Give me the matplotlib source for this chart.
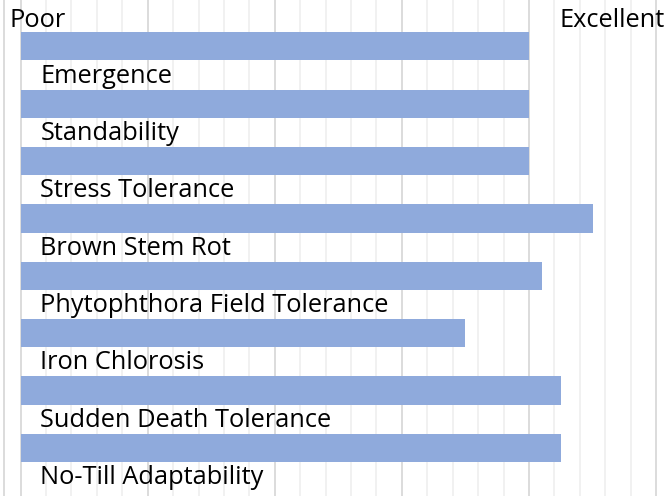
import matplotlib
matplotlib.use("Agg")
import matplotlib.pyplot as plt
import numpy as np

traits = ["Emergence", "Standability", "Stress Tolerance", "Brown Stem Rot",
          "Phytophthora Field Tolerance", "Iron Chlorosis",
          "Sudden Death Tolerance", "No-Till Adaptability"]
scores = [4.0, 4.0, 4.0, 4.5, 4.1, 3.5, 4.25, 4.25]
scale_labels = ["Poor", "Excellent"]

plt.rcParams['font.family'] = ['Open Sans', 'DejaVu Sans']

fig = plt.figure(figsize=(6.65, 4.96), dpi=100)
ax = fig.add_axes([0, 0, 1, 1])

y = np.arange(len(traits))
ax.barh(y, scores, height=0.49, color="#8FAADC", zorder=3)

# grid: majors every 1, minors every 0.2
for v in np.arange(0, 5.01, 0.2):
    major = abs(v - round(v)) < 1e-6
    ax.axvline(v, color="#D9D9D9" if major else "#F0F0F0",
               lw=1.3, zorder=1 if major else 0)
ax.axvline(-0.132, color="#D9D9D9", lw=1.3, zorder=1)

for i, name in enumerate(traits):
    ax.text(0.155, i + 0.52, name, fontsize=18.3, va="center", ha="left",
            color="#000000", zorder=4)

ax.text(-0.09, -0.45, scale_labels[0], fontsize=18.3, va="center", ha="left", zorder=4)
ax.text(5.065, -0.45, scale_labels[1], fontsize=18.3, va="center", ha="right", zorder=4)

ax.set_xlim(-0.162, 5.07)
ax.set_ylim(7.84, -0.81)
ax.axis("off")

fig.savefig("out.png", dpi=100)
